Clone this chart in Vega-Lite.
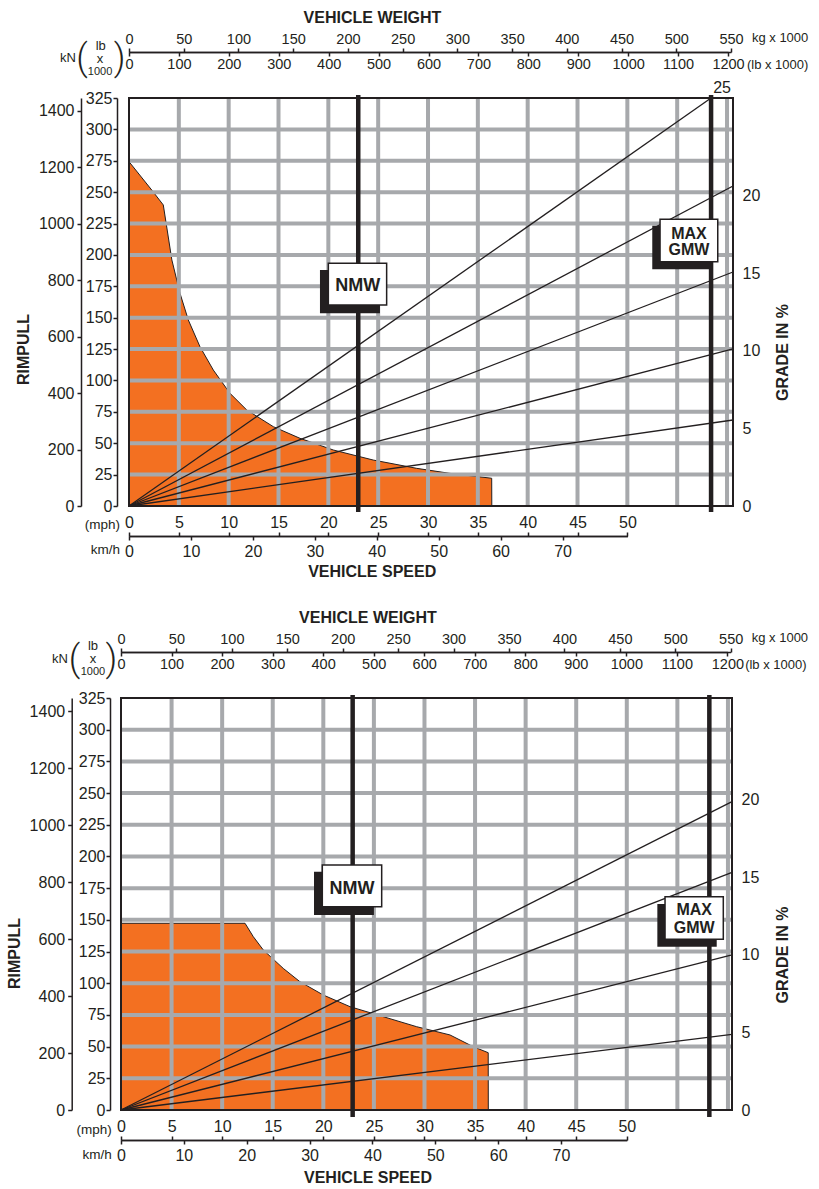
{
"$schema": "https://vega.github.io/schema/vega-lite/v6.json",
"background": "white",
"padding": {"left": 7, "top": 9, "right": 0, "bottom": 0},
"bounds": "flush",
"spacing": 192,
"config": {
  "view": {"stroke": null},
  "font": "Liberation Sans",
  "axis": {"grid": false, "labelFont": "Liberation Sans", "labelColor": "#231f20", "domainColor": "#231f20", "tickColor": "#231f20", "titleColor": "#231f20", "labelFlush": false, "labelOverlap": false, "domainWidth": 1.5, "tickWidth": 1.5, "titleFont": "Liberation Sans", "titleFontWeight": "bold", "titleFontSize": 16}
},
"vconcat": [
{
  "width": 612, "height": 408,
  "resolve": {"scale": {"x": "independent", "y": "independent"}},
  "layer": [
      {"data": {"values": [{"mph":0,"klb":274.3},{"mph":2.28,"klb":251.7},{"mph":3.44,"klb":239.8},{"mph":4.3,"klb":196},{"mph":5.12,"klb":169.4},{"mph":5.95,"klb":148.2},{"mph":7.12,"klb":126.9},{"mph":8.46,"klb":108.3},{"mph":10.13,"klb":89.8},{"mph":11.81,"klb":76.5},{"mph":14.48,"klb":63.2},{"mph":17.16,"klb":53.9},{"mph":20.5,"klb":44.6},{"mph":24.51,"klb":36.6},{"mph":28.86,"klb":30.0},{"mph":32.2,"klb":26.0},{"mph":36.39,"klb":22.1},{"mph":36.4,"klb":0}]},
       "mark": {"type": "area", "fill": "#f37021", "stroke": "#231f20", "strokeWidth": 1},
       "encoding": {"x": {"field": "mph", "type": "quantitative", "scale": {"domain": [0, 60.6], "range": [8, 612], "nice": false, "zero": false}, "axis": null},
                    "y": {"field": "klb", "type": "quantitative", "scale": {"domain": [0, 325], "nice": false, "zero": false}, "axis": null}}},
      {"data": {"values": [{"mph":5},{"mph":10},{"mph":15},{"mph":20},{"mph":25},{"mph":30},{"mph":35},{"mph":40},{"mph":45},{"mph":50},{"mph":55},{"mph":60}]},
       "mark": {"type": "rule", "color": "#a7a9ac", "strokeWidth": 4},
       "encoding": {"x": {"field": "mph", "type": "quantitative", "scale": {"domain": [0, 60.6], "range": [8, 612], "nice": false, "zero": false}, "axis": null},
                    "y": {"datum": 0, "type": "quantitative", "scale": {"domain": [0, 325], "nice": false, "zero": false}, "axis": null}, "y2": {"datum": 325}}},
      {"data": {"values": [{"klb":25},{"klb":50},{"klb":75},{"klb":100},{"klb":125},{"klb":150},{"klb":175},{"klb":200},{"klb":225},{"klb":250},{"klb":275},{"klb":300}]},
       "mark": {"type": "rule", "color": "#a7a9ac", "strokeWidth": 4},
       "encoding": {"x": {"datum": 0, "type": "quantitative", "scale": {"domain": [0, 60.6], "range": [8, 612], "nice": false, "zero": false}, "axis": null}, "x2": {"datum": 60.6},
                    "y": {"field": "klb", "type": "quantitative", "scale": {"domain": [0, 325], "nice": false, "zero": false}, "axis": null}}},
      {"data": {"values": [{"g":5,"mph":0,"klb":0},{"g":5,"mph":60.6,"klb":68.5},{"g":10,"mph":0,"klb":0},{"g":10,"mph":60.6,"klb":125.1},{"g":15,"mph":0,"klb":0},{"g":15,"mph":60.6,"klb":186.4},{"g":20,"mph":0,"klb":0},{"g":20,"mph":60.6,"klb":254.9},{"g":25,"mph":0,"klb":0},{"g":25,"mph":58.4,"klb":325}]},
       "mark": {"type": "line", "color": "#231f20", "strokeWidth": 1.3},
       "encoding": {"x": {"field": "mph", "type": "quantitative", "scale": {"domain": [0, 60.6], "range": [8, 612], "nice": false, "zero": false}, "axis": null},
                    "y": {"field": "klb", "type": "quantitative", "scale": {"domain": [0, 325], "nice": false, "zero": false}, "axis": null},
                    "detail": {"field": "g", "type": "nominal"}}},
      {"data": {"values": [{"m":"NMW","mph":23.0,"lo":-4.8,"hi":327.4},{"m":"MAX GMW","mph":58.4,"lo":-4.8,"hi":327.4}]},
       "mark": {"type": "rule", "color": "#231f20", "strokeWidth": 4.5},
       "encoding": {"x": {"field": "mph", "type": "quantitative", "scale": {"domain": [0, 60.6], "range": [8, 612], "nice": false, "zero": false}, "axis": null},
                    "y": {"field": "lo", "type": "quantitative", "scale": {"domain": [0, 325], "nice": false, "zero": false}, "axis": null}, "y2": {"field": "hi"}}},
      {"data": {"values": [{"m":"NMW","x0":19.16,"x1":25.18,"y0":153.5,"y1":188},{"m":"MAX GMW","x0":52.5,"x1":58.46,"y0":188.5,"y1":223.3}]},
       "mark": {"type": "rect", "fill": "#231f20"},
       "encoding": {"x": {"field": "x0", "type": "quantitative", "scale": {"domain": [0, 60.6], "range": [8, 612], "nice": false, "zero": false}, "axis": null}, "x2": {"field": "x1"},
                    "y": {"field": "y0", "type": "quantitative", "scale": {"domain": [0, 325], "nice": false, "zero": false}, "axis": null}, "y2": {"field": "y1"}}},
      {"data": {"values": [{"m":"NMW","x0":20.0,"x1":25.85,"y0":160.1,"y1":193.3},{"m":"MAX GMW","x0":53.28,"x1":59.07,"y0":194.6,"y1":228.4}]},
       "mark": {"type": "rect", "fill": "white", "stroke": "#231f20", "strokeWidth": 1.5},
       "encoding": {"x": {"field": "x0", "type": "quantitative", "scale": {"domain": [0, 60.6], "range": [8, 612], "nice": false, "zero": false}, "axis": null}, "x2": {"field": "x1"},
                    "y": {"field": "y0", "type": "quantitative", "scale": {"domain": [0, 325], "nice": false, "zero": false}, "axis": null}, "y2": {"field": "y1"}}},
      {"data": {"values": [{"t":"NMW","mph":22.94,"klb":175.2}]},
       "mark": {"type": "text", "font": "Liberation Sans", "fontWeight": "bold", "fontSize": 18, "color": "#231f20", "align": "center", "baseline": "middle"},
       "encoding": {"x": {"field": "mph", "type": "quantitative", "scale": {"domain": [0, 60.6], "range": [8, 612], "nice": false, "zero": false}, "axis": null},
                    "y": {"field": "klb", "type": "quantitative", "scale": {"domain": [0, 325], "nice": false, "zero": false}, "axis": null}, "text": {"field": "t"}}},
      {"data": {"values": [{"t":"MAX","mph":56.18,"klb":217.0},{"t":"GMW","mph":56.18,"klb":203.6}]},
       "mark": {"type": "text", "font": "Liberation Sans", "fontWeight": "bold", "fontSize": 16, "color": "#231f20", "align": "center", "baseline": "middle"},
       "encoding": {"x": {"field": "mph", "type": "quantitative", "scale": {"domain": [0, 60.6], "range": [8, 612], "nice": false, "zero": false}, "axis": null},
                    "y": {"field": "klb", "type": "quantitative", "scale": {"domain": [0, 325], "nice": false, "zero": false}, "axis": null}, "text": {"field": "t"}}},
      {"data": {"values": [{}]},
       "mark": {"type": "rect", "filled": false, "stroke": "#231f20", "strokeWidth": 2},
       "encoding": {"x": {"datum": 0, "type": "quantitative", "scale": {"domain": [0, 60.6], "range": [8, 612], "nice": false, "zero": false}, "axis": null}, "x2": {"datum": 60.6},
                    "y": {"datum": 0, "type": "quantitative", "scale": {"domain": [0, 325], "nice": false, "zero": false}, "axis": null}, "y2": {"datum": 325}}},
      {"data": {"values": [{"t":"kN","mph":-6.12,"klb":356.6},{"t":"lb","mph":-2.83,"klb":366.3},{"t":"x","mph":-2.91,"klb":355.8}]},
       "mark": {"type": "text", "fontSize": 13, "color": "#231f20", "align": "center", "baseline": "middle"},
       "encoding": {"x": {"field": "mph", "type": "quantitative", "scale": {"domain": [0, 60.6], "range": [8, 612], "nice": false, "zero": false}, "axis": null},
                    "y": {"field": "klb", "type": "quantitative", "scale": {"domain": [0, 325], "nice": false, "zero": false}, "axis": null}, "text": {"field": "t"}}},
      {"data": {"values": [{"t":"1000","mph":-2.9,"klb":345.6}]},
       "mark": {"type": "text", "fontSize": 11, "color": "#231f20", "align": "center", "baseline": "middle"},
       "encoding": {"x": {"field": "mph", "type": "quantitative", "scale": {"domain": [0, 60.6], "range": [8, 612], "nice": false, "zero": false}, "axis": null},
                    "y": {"field": "klb", "type": "quantitative", "scale": {"domain": [0, 325], "nice": false, "zero": false}, "axis": null}, "text": {"field": "t"}}},
      {"data": {"values": [{"t":"(","mph":-4.72,"klb":355.7},{"t":")","mph":-0.95,"klb":355.7}]},
       "mark": {"type": "text", "font": "Roboto", "fontWeight": 300, "fontSize": 36, "color": "#231f20", "align": "center", "baseline": "middle"},
       "encoding": {"x": {"field": "mph", "type": "quantitative", "scale": {"domain": [0, 60.6], "range": [8, 612], "nice": false, "zero": false}, "axis": null},
                    "y": {"field": "klb", "type": "quantitative", "scale": {"domain": [0, 325], "nice": false, "zero": false}, "axis": null}, "text": {"field": "t"}}},
      {"data": {"values": [{"t":"kg x 1000","mph":62.5,"klb":373},{"t":"(lb  x  1000)","mph":62.0,"klb":351.3}]},
       "mark": {"type": "text", "fontSize": 13, "color": "#231f20", "align": "left", "baseline": "middle"},
       "encoding": {"x": {"field": "mph", "type": "quantitative", "scale": {"domain": [0, 60.6], "range": [8, 612], "nice": false, "zero": false}, "axis": null},
                    "y": {"field": "klb", "type": "quantitative", "scale": {"domain": [0, 325], "nice": false, "zero": false}, "axis": null}, "text": {"field": "t"}}},
      {"data": {"values": [{"t":"(mph)","mph":-0.9,"klb":-15.1},{"t":"km/h","mph":-0.9,"klb":-35}]},
       "mark": {"type": "text", "fontSize": 13.5, "color": "#231f20", "align": "right", "baseline": "middle"},
       "encoding": {"x": {"field": "mph", "type": "quantitative", "scale": {"domain": [0, 60.6], "range": [8, 612], "nice": false, "zero": false}, "axis": null},
                    "y": {"field": "klb", "type": "quantitative", "scale": {"domain": [0, 325], "nice": false, "zero": false}, "axis": null}, "text": {"field": "t"}}},
      {"data": {"values": [{"t":"25","mph":59.5,"klb":333}]},
       "mark": {"type": "text", "fontSize": 16, "color": "#231f20", "align": "center", "baseline": "middle"},
       "encoding": {"x": {"field": "mph", "type": "quantitative", "scale": {"domain": [0, 60.6], "range": [8, 612], "nice": false, "zero": false}, "axis": null},
                    "y": {"field": "klb", "type": "quantitative", "scale": {"domain": [0, 325], "nice": false, "zero": false}, "axis": null}, "text": {"field": "t"}}},
    {"data": {"values": [{"v":0}]}, "mark": {"type": "point", "opacity": 0},
     "encoding": {"x": {"datum": 0, "type": "quantitative", "scale": {"domain": [0, 1]}, "axis": null},
       "y": {"field": "v", "type": "quantitative", "scale": {"domain": [0, 325], "nice": false, "zero": false},
       "axis": {"orient": "left", "offset": 4, "format": "d", "values": [0,25,50,75,100,125,150,175,200,225,250,275,300,325], "title": null, "labelFontSize": 16, "tickSize": 4, "labelPadding": 1}}}},
    {"data": {"values": [{"v":0}]}, "mark": {"type": "point", "opacity": 0},
     "encoding": {"x": {"datum": 0, "type": "quantitative", "scale": {"domain": [0, 1]}, "axis": null},
       "y": {"field": "v", "type": "quantitative", "scale": {"domain": [0, 1445.7], "nice": false, "zero": false},
       "axis": {"orient": "left", "offset": 40, "format": "d", "values": [0,200,400,600,800,1000,1200,1400], "title": "RIMPULL", "titleX": -57.5, "titleY": 251, "titleAngle": 270, "titleAlign": "center", "titleBaseline": "middle", "labelFontSize": 16, "tickSize": 4, "labelPadding": 3}}}},
    {"data": {"values": [{"v":0}]}, "mark": {"type": "point", "opacity": 0},
     "encoding": {"y": {"datum": 0, "type": "quantitative", "scale": {"domain": [0, 1]}, "axis": null},
       "x": {"field": "v", "type": "quantitative", "scale": {"domain": [0, 50], "range": [8, 506.4], "nice": false, "zero": false},
       "axis": {"orient": "top", "offset": -438, "format": "d", "values": [0,5,10,15,20,25,30,35,40,45,50], "title": null, "labelFontSize": 16, "tickSize": 4, "labelPadding": 2}}}},
    {"data": {"values": [{"v":0}]}, "mark": {"type": "point", "opacity": 0},
     "encoding": {"y": {"datum": 0, "type": "quantitative", "scale": {"domain": [0, 1]}, "axis": null},
       "x": {"field": "v", "type": "quantitative", "scale": {"domain": [0, 80.47], "range": [8, 506.4], "nice": false, "zero": false},
       "axis": {"orient": "bottom", "offset": 30, "format": "d", "values": [0,10,20,30,40,50,60,70], "title": "VEHICLE SPEED", "titleX": 250.7, "titleY": 35.5, "titleAlign": "center", "titleBaseline": "middle", "labelFontSize": 16, "tickSize": 4, "labelPadding": 3}}}},
    {"data": {"values": [{"v":0}]}, "mark": {"type": "point", "opacity": 0},
     "encoding": {"y": {"datum": 0, "type": "quantitative", "scale": {"domain": [0, 1]}, "axis": null},
       "x": {"field": "v", "type": "quantitative", "scale": {"domain": [0, 550], "range": [8, 610], "nice": false, "zero": false},
       "axis": {"orient": "top", "offset": 46, "format": "d", "values": [0,50,100,150,200,250,300,350,400,450,500,550], "title": "VEHICLE WEIGHT", "titleX": 251, "titleY": -35, "titleAlign": "center", "titleBaseline": "middle", "labelFontSize": 14.5, "tickSize": 4, "labelPadding": 2}}}},
    {"data": {"values": [{"v":0}]}, "mark": {"type": "point", "opacity": 0},
     "encoding": {"y": {"datum": 0, "type": "quantitative", "scale": {"domain": [0, 1]}, "axis": null},
       "x": {"field": "v", "type": "quantitative", "scale": {"domain": [0, 1200], "range": [8, 607], "nice": false, "zero": false},
       "axis": {"orient": "bottom", "offset": -454, "format": "d", "values": [0,100,200,300,400,500,600,700,800,900,1000,1100,1200], "title": null, "labelFontSize": 14.5, "tickSize": 4, "labelPadding": 1}}}},
    {"data": {"values": [{"v":0}]}, "mark": {"type": "point", "opacity": 0},
     "encoding": {"x": {"datum": 0, "type": "quantitative", "scale": {"domain": [0, 1]}, "axis": null},
       "y": {"field": "v", "type": "quantitative", "scale": {"domain": [0, 26.32], "nice": false, "zero": false},
       "axis": {"orient": "right", "format": "d", "values": [0,5,10,15,20], "domain": false, "ticks": false, "tickSize": 0, "labelPadding": 9, "labelFontSize": 16, "title": "GRADE IN %", "titleAngle": 270, "titleX": 49, "titleY": 254, "titleAlign": "center", "titleBaseline": "middle"}}}}
  ]
},
{
  "width": 611, "height": 412,
  "resolve": {"scale": {"x": "independent", "y": "independent"}},
  "layer": [
      {"data": {"values": [{"mph":0,"klb":147.3},{"mph":12.26,"klb":147.3},{"mph":13.08,"klb":136.7},{"mph":14.07,"klb":126.2},{"mph":16.04,"klb":111.7},{"mph":17.69,"klb":101.2},{"mph":20.0,"klb":90.7},{"mph":22.64,"klb":81.5},{"mph":25.93,"klb":73.6},{"mph":29.23,"klb":65.7},{"mph":32.52,"klb":59.2},{"mph":34.83,"klb":49.9},{"mph":36.3,"klb":45.2},{"mph":36.31,"klb":0}]},
       "mark": {"type": "area", "fill": "#f37021", "stroke": "#231f20", "strokeWidth": 1},
       "encoding": {"x": {"field": "mph", "type": "quantitative", "scale": {"domain": [0, 60.4], "nice": false, "zero": false}, "axis": null},
                    "y": {"field": "klb", "type": "quantitative", "scale": {"domain": [0, 325], "nice": false, "zero": false}, "axis": null}}},
      {"data": {"values": [{"mph":5},{"mph":10},{"mph":15},{"mph":20},{"mph":25},{"mph":30},{"mph":35},{"mph":40},{"mph":45},{"mph":50},{"mph":55},{"mph":60}]},
       "mark": {"type": "rule", "color": "#a7a9ac", "strokeWidth": 4},
       "encoding": {"x": {"field": "mph", "type": "quantitative", "scale": {"domain": [0, 60.4], "nice": false, "zero": false}, "axis": null},
                    "y": {"datum": 0, "type": "quantitative", "scale": {"domain": [0, 325], "nice": false, "zero": false}, "axis": null}, "y2": {"datum": 325}}},
      {"data": {"values": [{"klb":25},{"klb":50},{"klb":75},{"klb":100},{"klb":125},{"klb":150},{"klb":175},{"klb":200},{"klb":225},{"klb":250},{"klb":275},{"klb":300}]},
       "mark": {"type": "rule", "color": "#a7a9ac", "strokeWidth": 4},
       "encoding": {"x": {"datum": 0, "type": "quantitative", "scale": {"domain": [0, 60.4], "nice": false, "zero": false}, "axis": null}, "x2": {"datum": 60.4},
                    "y": {"field": "klb", "type": "quantitative", "scale": {"domain": [0, 325], "nice": false, "zero": false}, "axis": null}}},
      {"data": {"values": [{"g":5,"mph":0,"klb":0},{"g":5,"mph":60.4,"klb":59.7},{"g":10,"mph":0,"klb":0},{"g":10,"mph":60.4,"klb":122.3},{"g":15,"mph":0,"klb":0},{"g":15,"mph":60.4,"klb":187.5},{"g":20,"mph":0,"klb":0},{"g":20,"mph":60.4,"klb":243.2}]},
       "mark": {"type": "line", "color": "#231f20", "strokeWidth": 1.3},
       "encoding": {"x": {"field": "mph", "type": "quantitative", "scale": {"domain": [0, 60.4], "nice": false, "zero": false}, "axis": null},
                    "y": {"field": "klb", "type": "quantitative", "scale": {"domain": [0, 325], "nice": false, "zero": false}, "axis": null},
                    "detail": {"field": "g", "type": "nominal"}}},
      {"data": {"values": [{"m":"NMW","mph":22.9,"lo":-5.5,"hi":327.4},{"m":"MAX GMW","mph":58.16,"lo":-5.5,"hi":327.4}]},
       "mark": {"type": "rule", "color": "#231f20", "strokeWidth": 4.5},
       "encoding": {"x": {"field": "mph", "type": "quantitative", "scale": {"domain": [0, 60.4], "nice": false, "zero": false}, "axis": null},
                    "y": {"field": "lo", "type": "quantitative", "scale": {"domain": [0, 325], "nice": false, "zero": false}, "axis": null}, "y2": {"field": "hi"}}},
      {"data": {"values": [{"m":"NMW","x0":19.08,"x1":25.0,"y0":153.9,"y1":188},{"m":"MAX GMW","x0":53.02,"x1":58.89,"y0":128.8,"y1":162.5}]},
       "mark": {"type": "rect", "fill": "#231f20"},
       "encoding": {"x": {"field": "x0", "type": "quantitative", "scale": {"domain": [0, 60.4], "nice": false, "zero": false}, "axis": null}, "x2": {"field": "x1"},
                    "y": {"field": "y0", "type": "quantitative", "scale": {"domain": [0, 325], "nice": false, "zero": false}, "axis": null}, "y2": {"field": "y1"}}},
      {"data": {"values": [{"m":"NMW","x0":19.9,"x1":25.77,"y0":160.4,"y1":193.3},{"m":"MAX GMW","x0":53.78,"x1":59.54,"y0":134.6,"y1":168.3}]},
       "mark": {"type": "rect", "fill": "white", "stroke": "#231f20", "strokeWidth": 1.5},
       "encoding": {"x": {"field": "x0", "type": "quantitative", "scale": {"domain": [0, 60.4], "nice": false, "zero": false}, "axis": null}, "x2": {"field": "x1"},
                    "y": {"field": "y0", "type": "quantitative", "scale": {"domain": [0, 325], "nice": false, "zero": false}, "axis": null}, "y2": {"field": "y1"}}},
      {"data": {"values": [{"t":"NMW","mph":22.84,"klb":174.3}]},
       "mark": {"type": "text", "font": "Liberation Sans", "fontWeight": "bold", "fontSize": 18, "color": "#231f20", "align": "center", "baseline": "middle"},
       "encoding": {"x": {"field": "mph", "type": "quantitative", "scale": {"domain": [0, 60.4], "nice": false, "zero": false}, "axis": null},
                    "y": {"field": "klb", "type": "quantitative", "scale": {"domain": [0, 325], "nice": false, "zero": false}, "axis": null}, "text": {"field": "t"}}},
      {"data": {"values": [{"t":"MAX","mph":56.66,"klb":158.1},{"t":"GMW","mph":56.66,"klb":143.8}]},
       "mark": {"type": "text", "font": "Liberation Sans", "fontWeight": "bold", "fontSize": 16, "color": "#231f20", "align": "center", "baseline": "middle"},
       "encoding": {"x": {"field": "mph", "type": "quantitative", "scale": {"domain": [0, 60.4], "nice": false, "zero": false}, "axis": null},
                    "y": {"field": "klb", "type": "quantitative", "scale": {"domain": [0, 325], "nice": false, "zero": false}, "axis": null}, "text": {"field": "t"}}},
      {"data": {"values": [{}]},
       "mark": {"type": "rect", "filled": false, "stroke": "#231f20", "strokeWidth": 2},
       "encoding": {"x": {"datum": 0, "type": "quantitative", "scale": {"domain": [0, 60.4], "nice": false, "zero": false}, "axis": null}, "x2": {"datum": 60.4},
                    "y": {"datum": 0, "type": "quantitative", "scale": {"domain": [0, 325], "nice": false, "zero": false}, "axis": null}, "y2": {"datum": 325}}},
      {"data": {"values": [{"t":"kN","mph":-6.03,"klb":356},{"t":"lb","mph":-2.77,"klb":366.0},{"t":"x","mph":-2.77,"klb":355.5}]},
       "mark": {"type": "text", "fontSize": 13, "color": "#231f20", "align": "center", "baseline": "middle"},
       "encoding": {"x": {"field": "mph", "type": "quantitative", "scale": {"domain": [0, 60.4], "nice": false, "zero": false}, "axis": null},
                    "y": {"field": "klb", "type": "quantitative", "scale": {"domain": [0, 325], "nice": false, "zero": false}, "axis": null}, "text": {"field": "t"}}},
      {"data": {"values": [{"t":"1000","mph":-2.77,"klb":345.2}]},
       "mark": {"type": "text", "fontSize": 11, "color": "#231f20", "align": "center", "baseline": "middle"},
       "encoding": {"x": {"field": "mph", "type": "quantitative", "scale": {"domain": [0, 60.4], "nice": false, "zero": false}, "axis": null},
                    "y": {"field": "klb", "type": "quantitative", "scale": {"domain": [0, 325], "nice": false, "zero": false}, "axis": null}, "text": {"field": "t"}}},
      {"data": {"values": [{"t":"(","mph":-4.6,"klb":355},{"t":")","mph":-0.94,"klb":355}]},
       "mark": {"type": "text", "font": "Roboto", "fontWeight": 300, "fontSize": 36, "color": "#231f20", "align": "center", "baseline": "middle"},
       "encoding": {"x": {"field": "mph", "type": "quantitative", "scale": {"domain": [0, 60.4], "nice": false, "zero": false}, "axis": null},
                    "y": {"field": "klb", "type": "quantitative", "scale": {"domain": [0, 325], "nice": false, "zero": false}, "axis": null}, "text": {"field": "t"}}},
      {"data": {"values": [{"t":"kg x 1000","mph":62.35,"klb":372.6},{"t":"(lb  x  1000)","mph":61.7,"klb":351}]},
       "mark": {"type": "text", "fontSize": 13, "color": "#231f20", "align": "left", "baseline": "middle"},
       "encoding": {"x": {"field": "mph", "type": "quantitative", "scale": {"domain": [0, 60.4], "nice": false, "zero": false}, "axis": null},
                    "y": {"field": "klb", "type": "quantitative", "scale": {"domain": [0, 325], "nice": false, "zero": false}, "axis": null}, "text": {"field": "t"}}},
      {"data": {"values": [{"t":"(mph)","mph":-0.92,"klb":-15.8},{"t":"km/h","mph":-0.92,"klb":-35.5}]},
       "mark": {"type": "text", "fontSize": 13.5, "color": "#231f20", "align": "right", "baseline": "middle"},
       "encoding": {"x": {"field": "mph", "type": "quantitative", "scale": {"domain": [0, 60.4], "nice": false, "zero": false}, "axis": null},
                    "y": {"field": "klb", "type": "quantitative", "scale": {"domain": [0, 325], "nice": false, "zero": false}, "axis": null}, "text": {"field": "t"}}},
    {"data": {"values": [{"v":0}]}, "mark": {"type": "point", "opacity": 0},
     "encoding": {"x": {"datum": 0, "type": "quantitative", "scale": {"domain": [0, 1]}, "axis": null},
       "y": {"field": "v", "type": "quantitative", "scale": {"domain": [0, 325], "nice": false, "zero": false},
       "axis": {"orient": "left", "offset": 11, "format": "d", "values": [0,25,50,75,100,125,150,175,200,225,250,275,300,325], "title": null, "labelFontSize": 16, "tickSize": 4, "labelPadding": 1}}}},
    {"data": {"values": [{"v":0}]}, "mark": {"type": "point", "opacity": 0},
     "encoding": {"x": {"datum": 0, "type": "quantitative", "scale": {"domain": [0, 1]}, "axis": null},
       "y": {"field": "v", "type": "quantitative", "scale": {"domain": [0, 1445.7], "nice": false, "zero": false},
       "axis": {"orient": "left", "offset": 49.3, "format": "d", "values": [0,200,400,600,800,1000,1200,1400], "title": "RIMPULL", "titleX": -56.7, "titleY": 255, "titleAngle": 270, "titleAlign": "center", "titleBaseline": "middle", "labelFontSize": 16, "tickSize": 4, "labelPadding": 3}}}},
    {"data": {"values": [{"v":0}]}, "mark": {"type": "point", "opacity": 0},
     "encoding": {"y": {"datum": 0, "type": "quantitative", "scale": {"domain": [0, 1]}, "axis": null},
       "x": {"field": "v", "type": "quantitative", "scale": {"domain": [0, 50], "range": [0, 505.8], "nice": false, "zero": false},
       "axis": {"orient": "top", "offset": -442, "format": "d", "values": [0,5,10,15,20,25,30,35,40,45,50], "title": null, "labelFontSize": 16, "tickSize": 4, "labelPadding": 2}}}},
    {"data": {"values": [{"v":0}]}, "mark": {"type": "point", "opacity": 0},
     "encoding": {"y": {"datum": 0, "type": "quantitative", "scale": {"domain": [0, 1]}, "axis": null},
       "x": {"field": "v", "type": "quantitative", "scale": {"domain": [0, 80.47], "range": [0, 505.8], "nice": false, "zero": false},
       "axis": {"orient": "bottom", "offset": 30, "format": "d", "values": [0,10,20,30,40,50,60,70], "title": "VEHICLE SPEED", "titleX": 246.5, "titleY": 37.5, "titleAlign": "center", "titleBaseline": "middle", "labelFontSize": 16, "tickSize": 4, "labelPadding": 3}}}},
    {"data": {"values": [{"v":0}]}, "mark": {"type": "point", "opacity": 0},
     "encoding": {"y": {"datum": 0, "type": "quantitative", "scale": {"domain": [0, 1]}, "axis": null},
       "x": {"field": "v", "type": "quantitative", "scale": {"domain": [0, 550], "range": [0, 609.7], "nice": false, "zero": false},
       "axis": {"orient": "top", "offset": 46, "format": "d", "values": [0,50,100,150,200,250,300,350,400,450,500,550], "title": "VEHICLE WEIGHT", "titleX": 246.5, "titleY": -35, "titleAlign": "center", "titleBaseline": "middle", "labelFontSize": 14.5, "tickSize": 4, "labelPadding": 2}}}},
    {"data": {"values": [{"v":0}]}, "mark": {"type": "point", "opacity": 0},
     "encoding": {"y": {"datum": 0, "type": "quantitative", "scale": {"domain": [0, 1]}, "axis": null},
       "x": {"field": "v", "type": "quantitative", "scale": {"domain": [0, 1200], "range": [0, 606.4], "nice": false, "zero": false},
       "axis": {"orient": "bottom", "offset": -458, "format": "d", "values": [0,100,200,300,400,500,600,700,800,900,1000,1100,1200], "title": null, "labelFontSize": 14.5, "tickSize": 4, "labelPadding": 1}}}},
    {"data": {"values": [{"v":0}]}, "mark": {"type": "point", "opacity": 0},
     "encoding": {"x": {"datum": 0, "type": "quantitative", "scale": {"domain": [0, 1]}, "axis": null},
       "y": {"field": "v", "type": "quantitative", "scale": {"domain": [0, 26.58], "nice": false, "zero": false},
       "axis": {"orient": "right", "format": "d", "values": [0,5,10,15,20], "domain": false, "ticks": false, "tickSize": 0, "labelPadding": 9, "labelFontSize": 16, "title": "GRADE IN %", "titleAngle": 270, "titleX": 50, "titleY": 256.5, "titleAlign": "center", "titleBaseline": "middle"}}}}
  ]
}
]
}
